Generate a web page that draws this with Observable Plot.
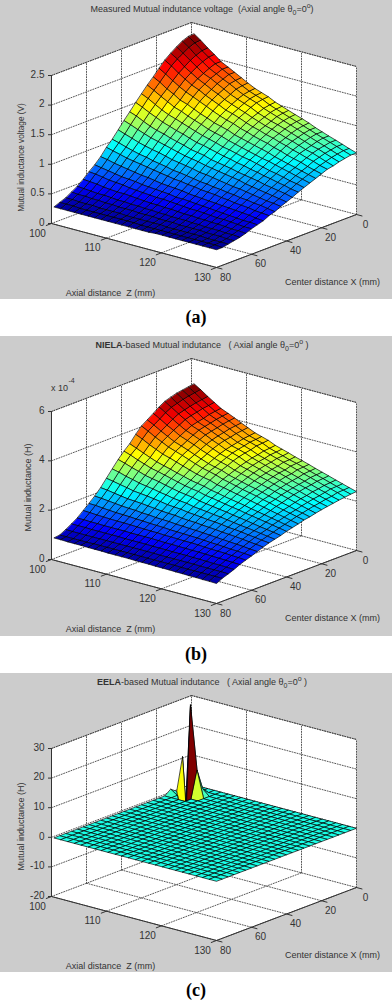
<!DOCTYPE html>
<html><head><meta charset="utf-8">
<script src="https://cdn.jsdelivr.net/npm/d3@7"></script>
<script src="https://cdn.jsdelivr.net/npm/@observablehq/plot@0.6"></script>
<style>
html,body{margin:0;padding:0;background:#fff;overflow:hidden;width:392px;height:1000px}
.panel{position:relative;background:#ccc;width:392px;overflow:hidden}
.panel svg{position:absolute;left:0;background:transparent}
.title{position:absolute;left:0;width:404px;text-align:center;font:9px "Liberation Sans",sans-serif;color:#333;white-space:pre;line-height:18px}
.title sub,.title sup{font-size:7px;line-height:0}
.cap{width:392px;text-align:center;font:bold 18px "Liberation Serif",serif;color:#000}
</style></head><body><div id="root"></div>
<script>
const zGrid=[100.5,101.7,103,104.2,105.4,106.7,107.9,109.1,110.3,111.6,112.8,114,115.3,116.5,117.7,118.9,120.2,121.4,122.6,123.8,125,126.3,127.5,128.7,130];
const xGrid=[0,3.3,6.7,10,13.3,16.7,20,23.3,26.7,30,33.3,36.7,40,43.3,46.7,50,53.3,56.7,60,63.3,66.7,70,73.3,76.7,80];
const zTicks=[100,110,120,130];
const xTicks=[0,20,40,60,80];
const measuredTicks=[0,50,100,150,200,250];
const nielaTicks=[0,200,400,600];
const eelaTicks=[-20,-10,0,10,20,30];
// Measured voltage, in hundredths of a volt; rows run along xGrid, columns along zGrid
const measured=[
[232,224,214,206,197,191,185,179,173,167,163,159,153,149,145,141,137,133,128,124,120,116,112,108,104],
[231,223,213,205,197,191,185,178,172,166,162,158,152,148,144,140,136,132,128,124,120,116,112,108,104],
[227,219,209,201,193,187,181,176,170,164,160,156,150,146,142,138,134,130,126,122,118,114,110,106,102],
[221,213,204,196,188,183,177,171,165,160,156,152,146,142,138,135,131,127,123,119,115,112,108,104,100],
[214,207,197,190,183,177,171,166,160,155,151,147,142,138,134,131,127,123,120,116,112,109,105,101,97],
[206,199,190,183,176,171,165,160,155,149,146,142,137,133,130,126,123,119,116,112,109,105,102,98,95],
[196,189,181,174,168,163,158,153,148,143,139,136,131,128,124,121,118,114,111,107,104,101,97,94,91],
[185,179,171,165,158,154,149,144,140,135,132,129,124,121,118,115,112,109,105,102,99,96,93,90,87],
[175,169,162,156,150,146,141,137,133,128,125,122,118,115,112,109,106,103,101,98,95,92,89,86,83],
[164,159,152,146,141,137,133,129,125,121,118,115,111,109,106,103,101,98,95,92,90,87,84,82,79],
[153,148,142,137,132,128,124,121,117,113,111,108,105,102,100,97,95,92,90,87,85,82,80,77,75],
[141,137,131,126,122,119,115,112,109,105,103,101,97,95,93,91,88,86,84,82,79,77,75,73,70],
[130,126,121,117,113,110,107,104,101,98,96,94,91,89,87,85,83,81,78,76,74,72,70,68,66],
[118,114,110,106,103,100,98,95,92,90,88,86,83,82,80,78,76,74,73,71,69,67,65,64,62],
[106,103,99,96,93,91,88,86,84,81,80,78,76,74,73,71,70,68,67,65,64,62,61,59,57],
[96,93,90,87,85,83,81,79,77,75,73,72,70,69,67,66,65,63,62,60,59,58,56,55,54],
[84,82,79,77,75,73,71,70,68,66,65,64,63,61,60,59,58,57,56,55,54,53,52,50,49],
[74,72,70,68,66,65,64,62,61,60,59,58,56,56,55,54,53,52,51,50,49,48,47,47,46],
[66,65,63,61,60,59,57,56,55,54,53,53,52,51,50,49,49,48,47,46,46,45,44,43,43],
[57,56,55,53,52,51,51,50,49,48,47,47,46,46,45,44,44,43,43,42,42,41,40,40,39],
[49,48,47,46,46,45,44,44,43,43,42,42,41,41,40,40,40,39,39,38,38,38,37,37,36],
[43,42,42,41,41,40,40,39,39,39,38,38,38,37,37,37,36,36,36,36,35,35,35,34,34],
[37,37,36,36,36,35,35,35,35,34,34,34,34,34,34,33,33,33,33,33,33,32,32,32,32],
[33,33,33,32,32,32,32,32,32,32,32,32,31,31,31,31,31,31,31,31,31,31,31,31,30],
[29,29,29,29,29,29,29,29,29,29,29,29,29,29,29,30,30,30,30,30,30,30,30,30,30]];
// NIELA inductance, in units of 1e-6 H
const niela=[
[500,483,463,446,429,417,405,392,380,367,359,351,338,330,322,313,305,297,288,280,272,263,255,247,239],
[496,479,459,442,426,414,402,389,377,364,356,348,335,327,319,310,303,295,286,278,270,261,253,245,237],
[492,475,455,439,422,410,398,386,374,361,354,346,333,325,317,309,301,293,284,276,268,259,252,244,234],
[488,470,450,433,415,404,392,380,368,355,348,339,327,319,311,302,294,286,278,270,263,254,247,238,231],
[481,463,444,428,410,399,387,375,364,350,343,335,323,315,307,298,291,283,274,266,259,251,242,235,227],
[473,456,437,421,404,393,381,368,357,344,337,329,316,309,301,292,285,277,269,261,254,245,238,230,223],
[459,443,424,408,393,382,371,359,348,336,328,321,309,302,294,286,279,271,263,256,249,241,233,226,219],
[442,427,409,395,380,369,359,347,337,326,318,311,300,293,286,278,271,264,257,250,243,235,228,221,214],
[425,411,394,380,366,356,346,335,325,314,307,301,290,283,276,269,263,256,248,242,235,228,221,215,208],
[409,395,379,366,353,343,334,324,314,304,298,291,281,275,268,261,255,249,242,236,229,222,216,210,204],
[384,372,357,345,333,325,316,307,298,289,283,278,268,263,257,251,245,239,233,227,221,215,209,203,197],
[355,344,332,321,311,303,296,288,281,273,268,263,255,250,244,239,234,229,223,218,213,207,202,196,191],
[334,325,313,304,294,288,281,274,267,260,255,251,243,239,234,229,224,220,214,210,205,200,195,190,185],
[309,301,291,283,274,268,263,256,250,244,240,236,229,225,221,217,213,208,204,200,195,190,186,182,177],
[280,274,265,259,252,247,243,237,233,227,224,221,215,212,209,205,202,198,194,190,187,183,179,175,171],
[251,246,240,235,229,226,223,219,215,210,208,206,201,199,196,193,191,188,184,182,179,175,172,168,165],
[222,219,214,210,206,204,202,199,196,193,191,190,186,184,183,180,178,176,173,171,169,166,163,160,157],
[197,195,192,189,186,184,183,180,179,176,175,174,171,170,168,167,165,163,161,159,157,155,153,150,148],
[176,175,172,170,168,167,166,164,163,161,160,159,157,156,155,154,153,151,149,148,146,144,143,141,139],
[156,155,153,152,151,150,150,149,148,147,146,146,144,144,143,142,142,141,139,138,137,136,134,133,131],
[135,135,134,134,133,133,133,133,132,132,132,132,131,130,130,129,129,128,128,127,126,125,124,123,122],
[120,120,120,119,119,119,119,119,118,118,118,118,117,117,117,116,116,116,115,115,114,113,113,112,111],
[106,105,105,105,105,105,105,105,105,105,105,105,105,105,104,104,104,104,104,104,103,103,103,103,102],
[93,93,93,93,93,94,94,94,94,94,94,94,94,94,94,94,94,94,93,93,93,93,93,93,93],
[90,90,89,89,89,88,88,88,87,87,87,87,86,86,86,85,85,85,84,84,83,83,82,82,81]];
// EELA: a flat sheet at this level, apart from the spikes by the back corner
const eelaLevel=0;
const eelaZIndex=[0,0,1,1,0,2,2,3,3,2];
const eelaXIndex=[1,2,2,3,4,3,4,3,2,2];
const eelaValue=[-20,11,-20,-20,1.5,30.5,-18,9,2,-2];

const jetStops=[0,.125,.375,.625,.875,1];
const jetColors=["#00008f","#0000ff","#00ffff","#ffff00","#ff0000","#800000"];
const eela=xGrid.map(()=>zGrid.map(()=>eelaLevel));
eelaValue.forEach((v,k)=>{eela[eelaXIndex[k]][eelaZIndex[k]]=v});

function panel(c){
  const wrap=document.createElement("div");wrap.className="panel";wrap.style.height=c.h+"px";
  const t=document.createElement("div");t.className="title";t.style.top=c.titleTop+"px";t.innerHTML=c.title;wrap.append(t);
  const span=c.vmax-c.vmin, k=span/148;
  const px=(Z,X)=>51+165*(Z-100)/30+140*(80-X)/80;
  const py=(Z,X,V)=>V-(44*(Z-100)/30-53*(80-X)/80)*k;
  const pt=(Z,X,V,id,v)=>({x:px(Z,X),y:py(Z,X,V),id,v});
  const poly=(id,pts)=>pts.map(p=>pt(p[0],p[1],p[2],id));
  const lo=c.vmin,hi=c.vmax;
  const walls=[
    ...poly("l",[[100,80,lo],[100,0,lo],[100,0,hi],[100,80,hi]]),
    ...poly("r",[[100,0,lo],[130,0,lo],[130,0,hi],[100,0,hi]]),
    ...poly("f",[[100,80,lo],[130,80,lo],[130,0,lo],[100,0,lo]])];
  const grid=[];let g=0;
  const seg=(a,b)=>{g++;grid.push(pt(...a,g),pt(...b,g))};
  for(const X of xTicks){seg([100,X,lo],[130,X,lo]);if(X<80)seg([100,X,lo],[100,X,hi]);}
  for(const Z of zTicks){seg([Z,80,lo],[Z,0,lo]);if(Z>100)seg([Z,0,lo],[Z,0,hi]);}
  for(const V of c.ticks){if(V>lo){seg([100,80,V],[100,0,V]);seg([100,0,V],[130,0,V]);}}
  seg([100,80,hi],[100,0,hi]);seg([100,0,hi],[130,0,hi]);seg([100,80,hi],[100,80,lo]);
  const cells=[];const m=c.data;
  for(let s=0;s<=46;s++)for(let j=0;j<24;j++){const i=s-j;if(i<0||i>23)continue;
    const id=j*100+i,v=m[j][i];
    cells.push(pt(zGrid[i],xGrid[j],m[j][i],id,v),pt(zGrid[i+1],xGrid[j],m[j][i+1],id,v),
      pt(zGrid[i+1],xGrid[j+1],m[j+1][i+1],id,v),pt(zGrid[i],xGrid[j+1],m[j+1][i],id,v));}
  const axes=[];let a=0;
  const ax=(p,q)=>{a++;axes.push(pt(...p,"a"+a),pt(...q,"a"+a))};
  ax([100,80,lo],[130,80,lo]);ax([130,80,lo],[130,0,lo]);ax([100,80,lo],[100,80,hi]);
  for(const Z of zTicks)ax([Z,80,lo],[Z,83,lo]);
  for(const X of xTicks)ax([130,X,lo],[131,X,lo]);
  const font={fontFamily:"Liberation Sans",fill:"#333"};
  const y0=c.bottom;
  const chart=Plot.plot({width:392,height:c.h-c.svgTop,margin:0,marginLeft:51,
    x:{domain:[0,392],range:[0,392],axis:null},
    y:{domain:[lo,hi],range:[y0,y0-148],axis:null},
    color:{type:"linear",domain:jetStops.map(f=>c.cmin+f*(c.cmax-c.cmin)),range:jetColors,clamp:true,interpolate:"rgb"},
    style:{background:"transparent",overflow:"visible"},
    marks:[
      Plot.line(walls,{x:"x",y:"y",z:"id",fill:"white",stroke:"none",curve:"linear-closed"}),
      Plot.line(grid,{x:"x",y:"y",z:"id",stroke:"#444",strokeWidth:.9,strokeDasharray:"1,1.6"}),
      Plot.line(cells,{x:"x",y:"y",z:"id",fill:"v",stroke:"#000",strokeWidth:.75,strokeOpacity:.9,strokeLinejoin:"round",curve:"linear-closed"}),
      Plot.line(axes,{x:"x",y:"y",z:"id",stroke:"#333",strokeWidth:1}),
      Plot.axisY({ticks:c.ticks,tickSize:3,text:null,label:null,color:"#333"}),
      Plot.axisY({ticks:c.ticks,tickSize:0,tickPadding:7,dy:-1,tickFormat:c.fmt,label:null,fontSize:10,fontFamily:"Liberation Sans",color:"#333"}),
      Plot.text(zTicks,{x:d=>px(d,80),y:d=>py(d,80,lo),text:d=>String(d),dx:-14,dy:10,fontSize:10,...font}),
      Plot.text(xTicks,{x:d=>px(130,d),y:d=>py(130,d,lo),text:d=>String(d),dx:9,dy:10,fontSize:10,...font}),
      Plot.text(["Axial distance  Z (mm)"],{x:()=>px(115,80),y:()=>py(115,80,lo),text:d=>d,dx:-23.5,dy:48,fontSize:9,...font}),
      Plot.text(["Center distance X (mm)"],{x:()=>px(130,40),y:()=>py(130,40,lo),text:d=>d,dx:46,dy:41.5,fontSize:9,...font}),
      Plot.text([c.ylabel],{x:()=>px(100,80),y:()=>(lo+hi)/2,text:d=>d,rotate:-90,dx:c.ylabelDx,dy:c.ylabelDy,fontSize:c.ylabelSize,...font}),
      ...(c.exp?[Plot.text(["x 10"],{x:()=>px(100,80),y:()=>hi,text:d=>d,dx:8,dy:-23,fontSize:9,...font}),
                 Plot.text(["-4"],{x:()=>px(100,80),y:()=>hi,text:d=>d,dx:20,dy:-31,fontSize:7,...font})]:[])
    ]});
  chart.style.top=c.svgTop+"px";
  wrap.append(chart);
  return wrap;
}
const theta='\u03b8<sub>0</sub>=0<sup>o</sup>';
const figs=[
 {h:299,svgTop:18,bottom:205,titleTop:0,data:measured,vmin:0,vmax:250,cmin:29,cmax:232,ticks:measuredTicks,fmt:d=>String(d/100),
  title:'Measured Mutual indutance voltage  (Axial angle '+theta+')',ylabel:"Mutual inductance voltage (V)",ylabelSize:8.2,ylabelDx:-30,ylabelDy:8,cap:"(a)",capH:37},
 {h:300,svgTop:18,bottom:205,titleTop:0,data:niela,vmin:0,vmax:600,cmin:81,cmax:500,ticks:nielaTicks,fmt:d=>String(d/100),exp:true,
  title:'<b>NIELA</b>-based Mutual indutance   ( Axial angle '+theta+' )',ylabel:"Mutual inductance (H)",ylabelSize:9,ylabelDx:-23,ylabelDy:2,cap:"(b)",capH:37},
 {h:299,svgTop:18,bottom:205,titleTop:0,data:eela,vmin:-20,vmax:30,cmin:-20,cmax:30,ticks:eelaTicks,fmt:d=>String(d),
  title:'<b>EELA</b>-based Mutual indutance   ( Axial angle '+theta+' )',ylabel:"Mutual inductance (H)",ylabelSize:9,ylabelDx:-30,ylabelDy:4,cap:"(c)",capH:28}
];
const root=document.getElementById("root");
for(const f of figs){
  root.append(panel(f));
  const cap=document.createElement("div");cap.className="cap";cap.textContent=f.cap;
  cap.style.height=f.capH+"px";cap.style.lineHeight="37px";cap.style.overflow="visible";
  root.append(cap);
}
</script></body></html>
